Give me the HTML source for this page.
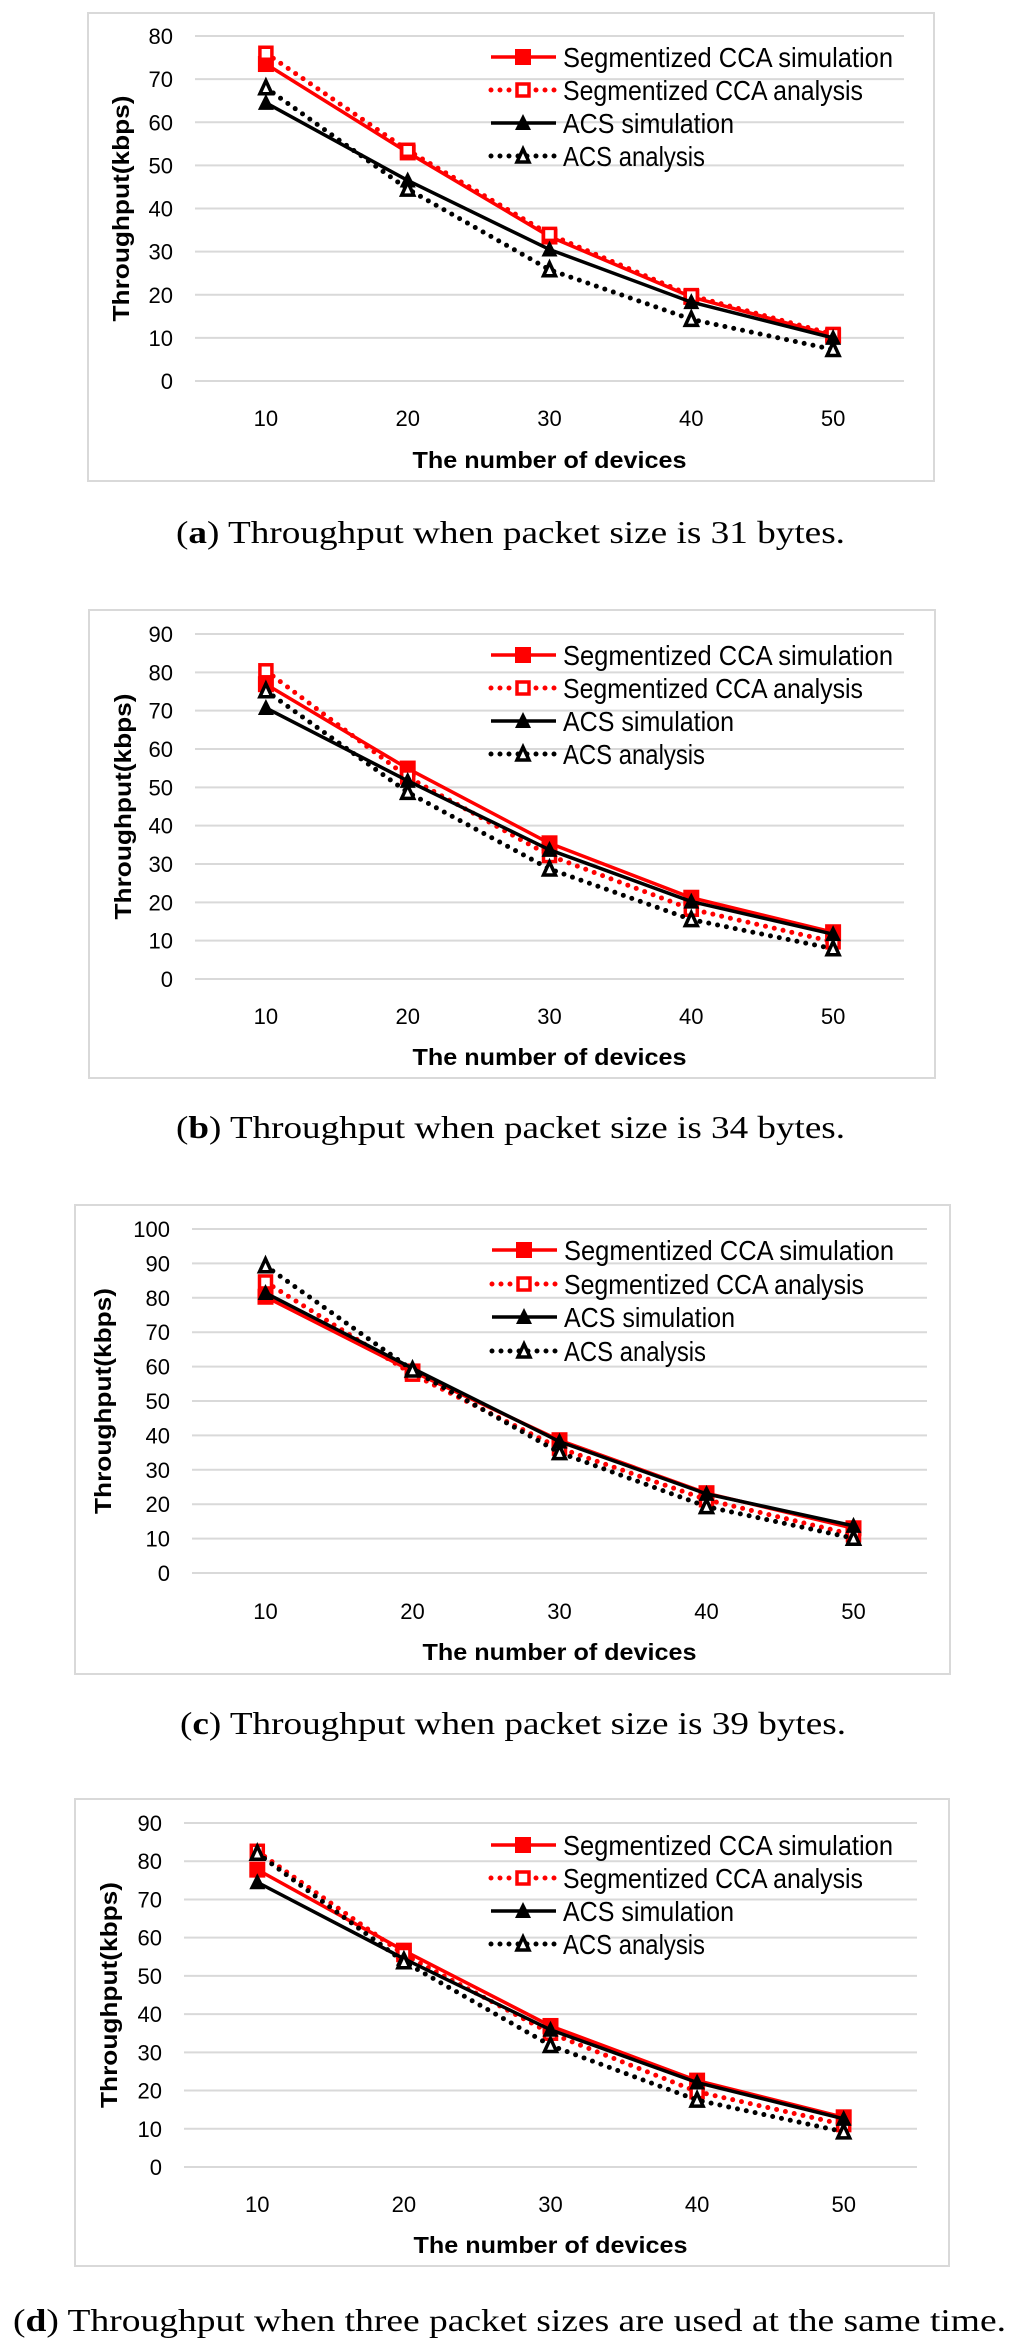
<!DOCTYPE html>
<html><head><meta charset="utf-8">
<style>
html,body{margin:0;padding:0;background:#fff;}
svg{display:block;}
</style></head>
<body>
<svg id="fig" width="1024" height="2352" viewBox="0 0 1024 2352" xmlns="http://www.w3.org/2000/svg"></svg>
<script>
// ---- shared data ----
const categories = [10, 20, 30, 40, 50];
const seriesNames = ["Segmentized CCA simulation", "Segmentized CCA analysis", "ACS simulation", "ACS analysis"];
// chart (a) packet 31 bytes
const aTicks = [0, 10, 20, 30, 40, 50, 60, 70, 80];
const aSccaSim = [73.5, 53, 33.5, 19.5, 10.5];
const aSccaAna = [76, 53.5, 34, 19.8, 10.8];
const aAcsSim = [64.5, 46.5, 30.5, 18.3, 10];
const aAcsAna = [68, 44.5, 25.8, 14.3, 7.3];
// chart (b) packet 34 bytes
const bTicks = [0, 10, 20, 30, 40, 50, 60, 70, 80, 90];
const bSccaSim = [76.9, 54.9, 35.4, 21.2, 12.2];
const bSccaAna = [80.4, 52.7, 32.2, 18.2, 9.7];
const bAcsSim = [70.7, 51.7, 33.7, 20.2, 11.7];
const bAcsAna = [75.2, 48.7, 28.7, 15.5, 7.9];
// chart (c) packet 39 bytes
const cTicks = [0, 10, 20, 30, 40, 50, 60, 70, 80, 90, 100];
const cSccaSim = [80.3, 58.6, 38.6, 23.2, 13];
const cSccaAna = [84.6, 57.8, 36.3, 21.3, 11.1];
const cAcsSim = [81.4, 59.5, 38.2, 23, 13.7];
const cAcsAna = [89.3, 59, 35, 19.3, 10.1];
// chart (d) three packet sizes
const dTicks = [0, 10, 20, 30, 40, 50, 60, 70, 80, 90];
const dSccaSim = [77.8, 56.6, 36.9, 22.6, 13];
const dSccaAna = [82.6, 55.6, 35, 19.7, 11.1];
const dAcsSim = [74.5, 54.5, 35.9, 22.1, 12.6];
const dAcsAna = [82.1, 53.7, 31.8, 17.5, 9.2];

const NS = "http://www.w3.org/2000/svg";
const fig = document.getElementById('fig');
function mk(tag, attrs, parent){
  const e = document.createElementNS(NS, tag);
  for (const k in attrs) e.setAttribute(k, attrs[k]);
  (parent || fig).appendChild(e);
  return e;
}
const RED = "#ff0000", BLK = "#000000", GRID = "#d9d9d9";

function marker(g, kind, x, y, color){
  let m;
  if (kind === 'sq') {
    m = mk('rect', {x:x-8, y:y-8, width:16, height:16, fill:color}, g);
  } else if (kind === 'osq') {
    m = mk('rect', {x:x-6, y:y-6, width:12, height:12, fill:'#fff', stroke:color, 'stroke-width':3.5}, g);
  } else if (kind === 'tri') {
    m = mk('polygon', {points:`${x},${y-9} ${x+8},${y+7} ${x-8},${y+7}`, fill:color}, g);
  } else {
    m = mk('polygon', {points:`${x},${y-7} ${x+6},${y+6} ${x-6},${y+6}`, fill:'#fff', stroke:color, 'stroke-width':3.5, 'stroke-linejoin':'miter'}, g);
  }
  
  
}

function chart(cfg){
  const g = mk('g', {});
  
  
  const fr = mk('rect', {x:cfg.fl, y:cfg.ft, width:cfg.fr-cfg.fl, height:cfg.fb-cfg.ft, fill:'#fff', stroke:GRID, 'stroke-width':2}, g);
  
  
  const ticks = cfg.ticks;
  const ymax = ticks[ticks.length-1];
  const yS = v => cfg.y0 - (v/ymax)*(cfg.y0 - cfg.yTop);
  const band = (cfg.pr - cfg.pl)/categories.length;
  const xS = i => cfg.pl + band*(i+0.5);
  ticks.forEach(t => {
    const l = mk('line', {x1:cfg.pl, x2:cfg.pr, y1:yS(t), y2:yS(t), stroke:GRID, 'stroke-width':2}, g);
    
    
    const tx = mk('text', {x:cfg.pl-22, y:yS(t)+8, 'text-anchor':'end', 'font-family':'Liberation Sans, sans-serif', 'font-size':22, fill:'#000'}, g);
    tx.textContent = t;
    
    
  });
  categories.forEach((c,i) => {
    const tx = mk('text', {x:xS(i), y:cfg.xly+8, 'text-anchor':'middle', 'font-family':'Liberation Sans, sans-serif', 'font-size':22, fill:'#000'}, g);
    tx.textContent = c;
    
    
  });
  const xt = mk('text', {x:(cfg.pl+cfg.pr)/2, y:cfg.xty+8, 'text-anchor':'middle', 'font-family':'Liberation Sans, sans-serif', 'font-weight':'bold', 'font-size':23, textLength:274, lengthAdjust:'spacingAndGlyphs', fill:'#000'}, g);
  xt.textContent = 'The number of devices';
  
  
  const ymid = (cfg.y0 + cfg.yTop)/2;
  const yt = mk('text', {x:0, y:0, transform:`translate(${cfg.ytx+8},${ymid}) rotate(-90)`, 'text-anchor':'middle', 'font-family':'Liberation Sans, sans-serif', 'font-weight':'bold', 'font-size':23, textLength:226, lengthAdjust:'spacingAndGlyphs', fill:'#000'}, g);
  yt.textContent = 'Throughput(kbps)';
  
  

  const styles = [
    {color:RED, dash:false, mk:'sq'},
    {color:RED, dash:true, mk:'osq'},
    {color:BLK, dash:false, mk:'tri'},
    {color:BLK, dash:true, mk:'otri'}
  ];
  cfg.series.forEach((vals, si) => {
    const st = styles[si];
    const sg = mk('g', {}, g);
    
    
    const pts = vals.map((v,i) => `${xS(i)},${yS(v)}`).join(' ');
    const attrs = {points:pts, fill:'none', stroke:st.color, 'stroke-width':st.dash?5:3.5, 'stroke-linejoin':'round'};
    if (st.dash) { attrs['stroke-dasharray'] = '0 9'; attrs['stroke-linecap'] = 'round'; }
    const pl = mk('polyline', attrs, sg);
    
    
    vals.forEach((v,i) => marker(sg, st.mk, xS(i), yS(v), st.color));
  });

  // legend
  const lg = mk('g', {}, g);
  
  
  const lens = [330, 300, 171, 142];
  seriesNames.forEach((n, si) => {
    const st = styles[si];
    const y = cfg.legY[si];
    const eg = mk('g', {}, lg);
    
    
    const la = {x1:cfg.legX-32, x2:cfg.legX+33, y1:y, y2:y, stroke:st.color, 'stroke-width':st.dash?5:3.5};
    if (st.dash) { la['stroke-dasharray'] = '0 9'; la['stroke-linecap'] = 'round'; }
    mk('line', la, eg);
    marker(eg, st.mk, cfg.legX, y, st.color);
    const t = mk('text', {x:cfg.legX+40, y:y+10, 'font-family':'Liberation Sans, sans-serif', 'font-size':28, textLength:lens[si], lengthAdjust:'spacingAndGlyphs', fill:'#000'}, eg);
    t.textContent = n;
  });

  const cap = mk('text', {x:cfg.capX, y:cfg.capY+11, 'font-family':'Liberation Serif, serif', 'font-size':32, textLength:cfg.capW, lengthAdjust:'spacingAndGlyphs', fill:'#000'});
  
  
  const b1 = mk('tspan', {}, cap); b1.textContent = '(';
  const b2 = mk('tspan', {'font-weight':'bold'}, cap); b2.textContent = cfg.id;
  const b3 = mk('tspan', {}, cap); b3.textContent = ') ' + cfg.caption;
}

chart({id:'a', fl:88, fr:934, ft:13, fb:481, pl:195, pr:904, y0:381, yTop:36, ticks:aTicks,
  series:[aSccaSim, aSccaAna, aAcsSim, aAcsAna], xly:418, xty:460, ytx:121,
  legX:523, legY:[57,90,123,156], capX:176, capY:532, capW:669,
  caption:'Throughput when packet size is 31 bytes.'});
chart({id:'b', fl:89, fr:935, ft:610, fb:1078, pl:195, pr:904, y0:979, yTop:634, ticks:bTicks,
  series:[bSccaSim, bSccaAna, bAcsSim, bAcsAna], xly:1016, xty:1057, ytx:123,
  legX:523, legY:[655,688,721,754], capX:176, capY:1127, capW:669,
  caption:'Throughput when packet size is 34 bytes.'});
chart({id:'c', fl:75, fr:950, ft:1205, fb:1674, pl:192, pr:927, y0:1573, yTop:1229, ticks:cTicks,
  series:[cSccaSim, cSccaAna, cAcsSim, cAcsAna], xly:1611, xty:1652, ytx:103,
  legX:524, legY:[1250,1284,1317,1351], capX:180, capY:1723, capW:666,
  caption:'Throughput when packet size is 39 bytes.'});
chart({id:'d', fl:75, fr:949, ft:1799, fb:2266, pl:184, pr:917, y0:2167, yTop:1823, ticks:dTicks,
  series:[dSccaSim, dSccaAna, dAcsSim, dAcsAna], xly:2204, xty:2245, ytx:109,
  legX:523, legY:[1845,1878,1911,1944], capX:13, capY:2320, capW:993,
  caption:'Throughput when three packet sizes are used at the same time.'});
</script>
</body></html>
